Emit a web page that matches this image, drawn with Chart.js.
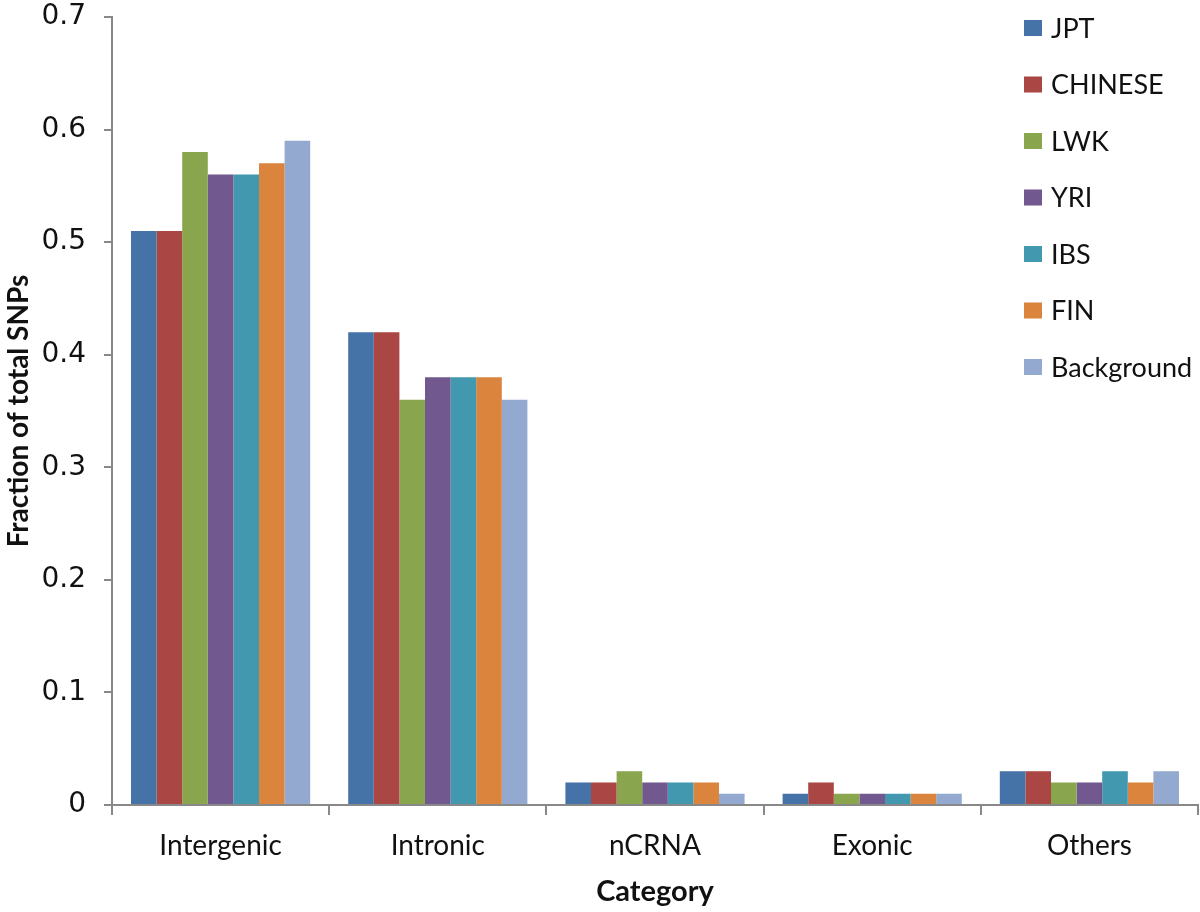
<!DOCTYPE html>
<html>
<head>
<meta charset="utf-8">
<script src="https://cdn.jsdelivr.net/npm/chart.js@4"></script>
<style>
  html, body { margin: 0; padding: 0; background: #fff; }
</style>
</head>
<body>
<canvas id="chart" width="1200" height="912"></canvas>
<script>
const categories = ["Intergenic", "Intronic", "nCRNA", "Exonic", "Others"];
const seriesNames = ["JPT", "CHINESE", "LWK", "YRI", "IBS", "FIN", "Background"];
const jpt        = [0.51, 0.42, 0.02, 0.01, 0.03];
const chinese    = [0.51, 0.42, 0.02, 0.02, 0.03];
const lwk        = [0.58, 0.36, 0.03, 0.01, 0.02];
const yri        = [0.56, 0.38, 0.02, 0.01, 0.02];
const ibs        = [0.56, 0.38, 0.02, 0.01, 0.03];
const fin        = [0.57, 0.38, 0.02, 0.01, 0.02];
const background = [0.59, 0.36, 0.01, 0.01, 0.03];
const colors = ["#4572A7", "#AA4643", "#89A54E", "#71588F", "#4198AF", "#DB843D", "#93A9CF"];

const values = [jpt, chinese, lwk, yri, ibs, fin, background];

// legend drawn inside the plot, top right, like the original
const sideLegend = {
  id: "sideLegend",
  afterDraw(chart) {
    const ctx = chart.ctx;
    ctx.save();
    ctx.font = "27px Lato, 'Open Sans', sans-serif";
    ctx.textBaseline = "middle";
    chart.data.datasets.forEach((ds, i) => {
      const y = 28 + i * 56.5;
      ctx.fillStyle = ds.backgroundColor;
      ctx.fillRect(1024, y - 8, 18, 16);
      ctx.fillStyle = "#111";
      ctx.fillText(ds.label, 1051, y + 1);
    });
    ctx.restore();
  }
};

new Chart(document.getElementById("chart"), {
  type: "bar",
  data: {
    labels: categories,
    datasets: seriesNames.map((name, i) => ({
      label: name,
      data: values[i],
      backgroundColor: colors[i],
      categoryPercentage: 0.825,
      barPercentage: 1.0
    }))
  },
  options: {
    responsive: false,
    animation: false,
    devicePixelRatio: 1,
    layout: { padding: { top: 17, right: 2, left: 2, bottom: 0 } },
    plugins: {
      legend: { display: false },
      tooltip: { enabled: false }
    },
    scales: {
      x: {
        grid: {
          offset: true,
          drawOnChartArea: false,
          drawTicks: true,
          tickLength: 10,
          color: "#888",
          lineWidth: 2
        },
        border: { color: "#888", width: 2 },
        ticks: {
          color: "#111",
          font: { size: 28, family: "Lato, 'Open Sans', sans-serif" },
          padding: 14
        },
        title: {
          display: true,
          text: "Category",
          color: "#111",
          font: { size: 29, weight: "bold", family: "Lato, 'Open Sans', sans-serif" },
          padding: { top: 10, bottom: 3 }
        },
        afterFit(scale) {
          scale.height = 107;
          scale.paddingLeft = 0;
          scale.paddingRight = 0;
        }
      },
      y: {
        min: 0,
        max: 0.7,
        ticks: {
          stepSize: 0.1,
          color: "#111",
          font: { size: 28, family: "'DejaVu Sans', sans-serif" },
          padding: 18,
          callback: (v) => Math.round(v * 10) / 10
        },
        grid: {
          drawOnChartArea: false,
          drawTicks: true,
          tickLength: 8,
          color: "#888",
          lineWidth: 2
        },
        border: { color: "#888", width: 2 },
        title: {
          display: true,
          text: "Fraction of total SNPs",
          color: "#111",
          font: { size: 28, weight: "bold", family: "Lato, 'Open Sans', sans-serif" },
          padding: { top: 0, bottom: 0 }
        },
        afterFit(scale) {
          scale.width = 110;
          scale.paddingTop = 0;
          scale.paddingBottom = 0;
        }
      }
    }
  },
  plugins: [sideLegend]
});
</script>
</body>
</html>
